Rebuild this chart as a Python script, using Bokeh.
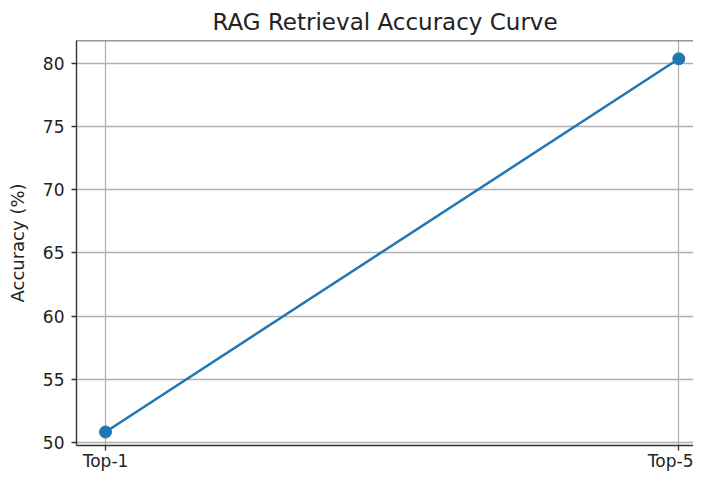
from bokeh.plotting import figure
from bokeh.models import FixedTicker, Range1d, Span, ColumnDataSource
from bokeh.embed import file_html
from bokeh.resources import INLINE

categories = ["Top-1", "Top-5"]
accuracy = [50.8, 80.4]
y_ticks = [50, 55, 60, 65, 70, 75, 80]

xs = list(range(len(categories)))
src = ColumnDataSource(dict(x=xs, y=accuracy))

p = figure(width=693, height=473, output_backend="svg", toolbar_location=None,
           x_range=Range1d(-0.0506, 1.0256), y_range=Range1d(49.73, 81.85),
           min_border_left=76, min_border_right=0, min_border_bottom=26, min_border_top=39)

p.title.text = "RAG Retrieval Accuracy Curve"
p.title.align = "center"
p.title.text_font = "DejaVu Sans"
p.title.text_font_size = "23px"
p.title.text_font_style = "normal"
p.title.text_color = "#222222"
p.title.standoff = 12

p.outline_line_color = None
p.background_fill_color = "white"
p.border_fill_color = "white"

p.line("x", "y", source=src, line_color="#1f77b4", line_width=2.5)
p.scatter("x", "y", source=src, size=12, fill_color="#1f77b4", line_color="#1f77b4")

for ax in (p.xaxis[0], p.yaxis[0]):
    ax.axis_line_color = "#333333"
    ax.axis_line_width = 1.4
    ax.major_tick_line_color = "#333333"
    ax.major_tick_line_width = 1.3
    ax.major_tick_out = 5
    ax.major_tick_in = 0
    ax.minor_tick_line_color = None
    ax.major_label_text_font = "DejaVu Sans"
    ax.major_label_text_font_size = "17px"
    ax.major_label_text_color = "#222222"

p.xaxis.major_label_standoff = 0
p.yaxis.major_label_standoff = 7
p.xaxis.ticker = FixedTicker(ticks=xs)
p.xaxis.major_label_overrides = {i: c for i, c in enumerate(categories)}
p.yaxis.ticker = FixedTicker(ticks=y_ticks)
p.yaxis.axis_label = "Accuracy (%)"
p.yaxis.axis_label_text_font = "DejaVu Sans"
p.yaxis.axis_label_text_font_size = "18px"
p.yaxis.axis_label_text_font_style = "normal"
p.yaxis.axis_label_text_color = "#222222"
p.yaxis.axis_label_standoff = 12

p.grid.grid_line_color = "#b0b0b0"
p.grid.grid_line_width = 1.3

top = Span(location=81.85, dimension="width", line_color="#333333", line_width=1.4)
p.add_layout(top)

open("out.html", "w").write(file_html(p, INLINE))
